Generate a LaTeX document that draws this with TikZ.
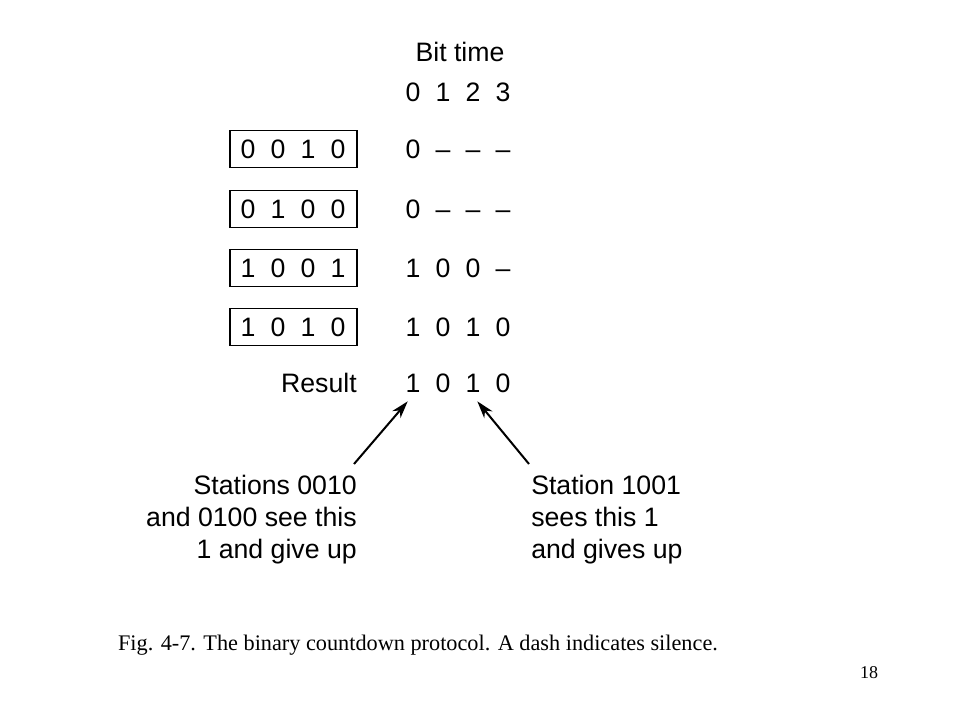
\documentclass[tikz,border=0pt]{standalone}
\usepackage{fontspec}
\setmainfont{Liberation Sans}
\newfontfamily\capfont{Liberation Serif}
\usetikzlibrary{arrows.meta}

\begin{document}
\begin{tikzpicture}[x=0.75pt,y=-0.75pt,
  bit/.style={font=\fontsize{20}{24}\selectfont,inner sep=0pt,text height=14.3pt,text depth=0pt},
  stnbox/.style={draw,line width=1.4pt,minimum width=95.25pt,minimum height=27.75pt,inner sep=0pt},
  note/.style={font=\fontsize{20}{24}\selectfont,inner sep=0pt},
  arr/.style={-{Stealth[length=13pt,width=8pt,inset=4pt]},line width=1.5pt}]
\useasboundingbox (0,0) rectangle (960,720);
\node[bit] (title) at (460,52) {Bit time};
\foreach \n in {0,1,2,3}
  {\node[bit] (h\n) at (413+30*\n,92) {\n};}
% stations and what they put on the bus
\foreach \row/\y/\code/\sent in {1/149/{0,0,1,0}/{0,–,–,–},2/209/{0,1,0,0}/{0,–,–,–},3/268/{1,0,0,1}/{1,0,0,–},4/327/{1,0,1,0}/{1,0,1,0}}
  {  \node[stnbox] (s\row) at (293.5,\y) {};
     \foreach \d [count=\i from 0] in \code
       {\node[bit] (s\row c\i) at (248+30*\i,\y) {\d};}
     \foreach \d [count=\i from 0] in \sent
       {\node[bit] (s\row t\i) at (413+30*\i,\y) {\d};}
  }
\node[bit,anchor=east] (res) at (357,383) {Result};
\foreach \d [count=\i from 0] in {1,0,1,0}
  {\node[bit] (r\i) at (413+30*\i,383) {\d};}
\node[note,align=right,anchor=north east] (lnote) at (357,475) {Stations 0010\\and 0100 see this\\1 and give up};
\node[note,align=left,anchor=north west] (rnote) at (531,475) {Station 1001\\sees this 1\\and gives up};
\draw[arr] ([xshift=-2.25pt,yshift=8.25pt]lnote.north east) -- ([xshift=1.8pt,yshift=-6.4pt]r0.south west);
\draw[arr] ([xshift=-1.5pt,yshift=8.25pt]rnote.north west) -- ([xshift=-2.5pt,yshift=-6.4pt]r2.south east);
\node[font=\capfont\fontsize{16.7}{20}\selectfont,inner sep=0pt] (cap) at (418,645) {Fig. 4-7. The binary countdown protocol. A dash indicates silence.};
\node[font=\capfont\fontsize{13.5}{16}\selectfont,inner sep=0pt] (pg) at (869,673) {18};
\end{tikzpicture}
\end{document}
